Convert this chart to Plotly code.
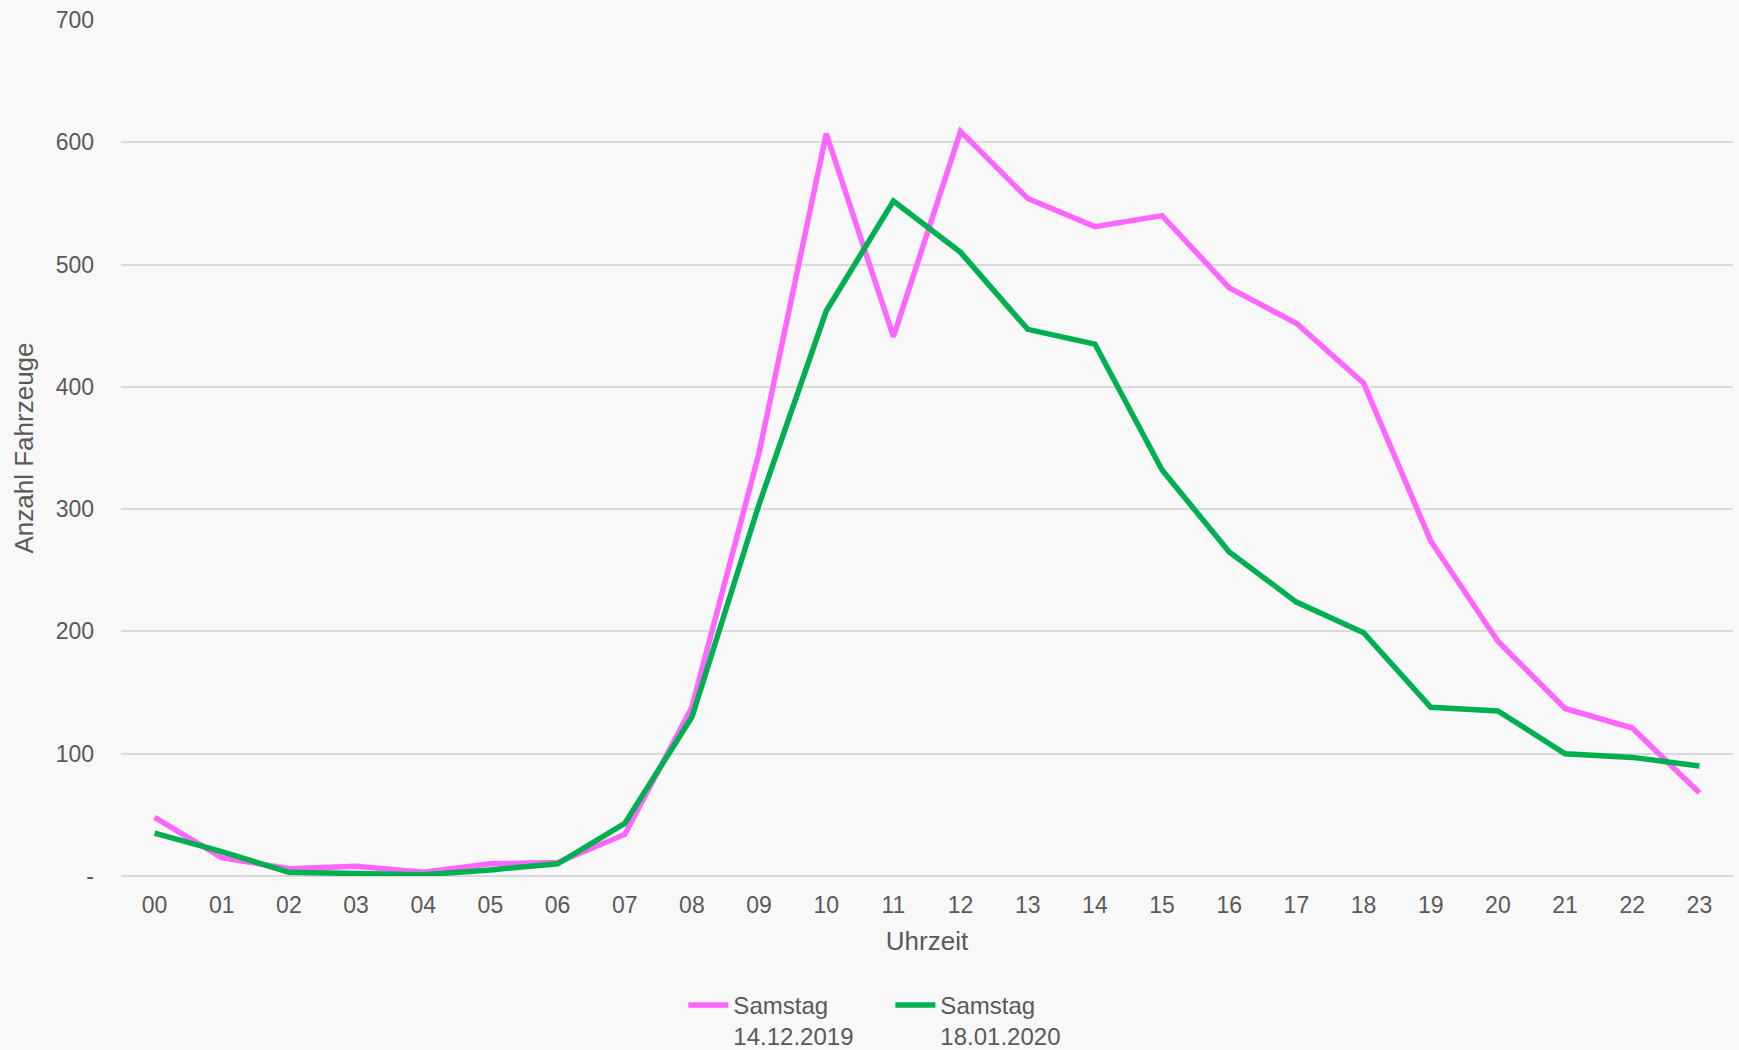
import plotly.graph_objects as go

hours = ["00","01","02","03","04","05","06","07","08","09","10","11",
         "12","13","14","15","16","17","18","19","20","21","22","23"]
sat_2019 = [48, 15, 6, 8, 3, 10, 11, 34, 138, 346, 607, 441,
            609, 554, 531, 540, 481, 452, 403, 274, 192, 137, 121, 68]
sat_2020 = [35, 20, 3, 2, 1, 5, 10, 43, 130, 304, 462, 552,
            510, 447, 435, 332, 265, 224, 199, 138, 135, 100, 97, 90]
name_2019 = "Samstag<br>14.12.2019"
name_2020 = "Samstag<br>18.01.2020"
y_ticks = [0, 100, 200, 300, 400, 500, 600, 700]
y_tick_labels = ["-", "100", "200", "300", "400", "500", "600", "700"]

font_color = "#595959"
fig = go.Figure()
fig.add_trace(go.Scatter(x=hours, y=sat_2019, mode="lines", name=name_2019,
                         line=dict(color="#FF66FF", width=5.5)))
fig.add_trace(go.Scatter(x=hours, y=sat_2020, mode="lines", name=name_2020,
                         line=dict(color="#00B050", width=5.5)))

fig.update_layout(
    width=1739, height=1050,
    paper_bgcolor="#F8F8F8", plot_bgcolor="#F8F8F8",
    margin=dict(l=121, r=6, t=20, b=174),
    font=dict(family="Liberation Sans, Arial, sans-serif", size=23, color=font_color),
    showlegend=True,
    legend=dict(orientation="h", xref="container", yref="container",
                x=0.512, xanchor="center", y=0.064, yanchor="top",
                valign="top", font=dict(size=24, color=font_color),
                bgcolor="rgba(0,0,0,0)", itemwidth=40, entrywidth=152,
                tracegroupgap=0),
)
fig.update_xaxes(type="category", range=[-0.5, 23.5], showgrid=False, zeroline=False,
                 showline=False, ticks="", ticklabelstandoff=13,
                 tickfont=dict(size=23, color=font_color),
                 title=dict(text="Uhrzeit", font=dict(size=26, color=font_color), standoff=14))
fig.update_yaxes(range=[0, 700], tickvals=y_ticks, ticktext=y_tick_labels,
                 showgrid=True, gridcolor="#D9D9D9", gridwidth=1.5,
                 zeroline=True, zerolinecolor="#D9D9D9", zerolinewidth=1.5,
                 showline=False, ticks="", ticklabelstandoff=26,
                 tickfont=dict(size=23, color=font_color),
                 title=dict(text="Anzahl Fahrzeuge", font=dict(size=26, color=font_color), standoff=14))

fig.write_html("out.html", config={"displayModeBar": False},
               post_script="document.body.style.margin='0';document.body.style.overflow='hidden';")
